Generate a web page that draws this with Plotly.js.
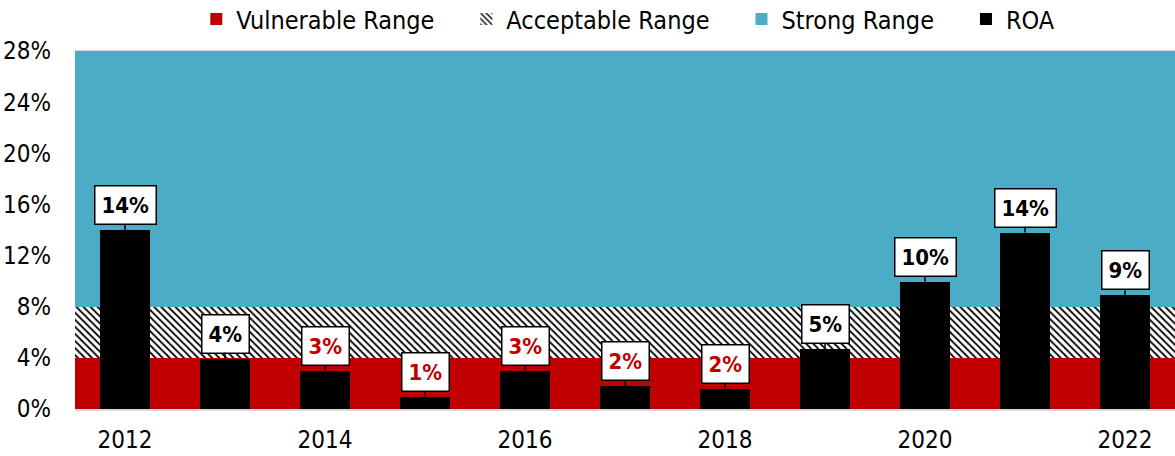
<!DOCTYPE html>
<html><head><meta charset="utf-8">
<script src="https://cdn.plot.ly/plotly-3.0.1.min.js"></script>
<style>html,body{margin:0;padding:0;background:#fff;}#chart{width:1175px;height:456px;}</style>
</head><body><div id="chart"></div>
<script>
const years = [2012, 2013, 2014, 2015, 2016, 2017, 2018, 2019, 2020, 2021, 2022];
const roa = [14.0, 3.95, 3.0, 0.9, 3.0, 1.8, 1.6, 4.7, 9.95, 13.8, 8.9];
const vulnerableTop = 4;
const acceptableTop = 8;
const strongTop = 28;
const yTicks = [0, 4, 8, 12, 16, 20, 24, 28];
const xTicks = [2012, 2014, 2016, 2018, 2020, 2022];
const seriesNames = ['Vulnerable Range', 'Acceptable Range', 'Strong Range', 'ROA'];

const RED = '#C00000', TEAL = '#4BACC6';
const FONT = 'DejaVu Sans Condensed, DejaVu Sans';
const PAD = '\u2003\u2009';

const fill = v => years.map(() => v);

const traces = [
  {type: 'bar', name: seriesNames[0] + PAD, x: years, y: fill(vulnerableTop), base: fill(0), width: 1,
   marker: {color: RED, line: {width: 0}}, hoverinfo: 'skip'},
  {type: 'bar', name: seriesNames[1] + PAD, x: years, y: fill(acceptableTop - vulnerableTop), base: fill(vulnerableTop), width: 1,
   marker: {color: 'white', line: {width: 0}, pattern: {shape: '\\', fgcolor: 'black', bgcolor: 'white', size: 5, solidity: 0.35}}, hoverinfo: 'skip'},
  {type: 'bar', name: seriesNames[2] + PAD, x: years, y: fill(strongTop - acceptableTop), base: fill(acceptableTop), width: 1,
   marker: {color: TEAL, line: {width: 0}}, hoverinfo: 'skip'},
  {type: 'bar', name: seriesNames[3], x: years, y: roa, base: fill(0), width: 0.5,
   marker: {color: 'black', line: {width: 0}}, hoverinfo: 'skip'}
];

const annotations = years.map((yr, i) => {
  const r = Math.round(roa[i]);
  return {
    x: yr, y: roa[i], xref: 'x', yref: 'y',
    text: '<b>' + r + '%</b>',
    showarrow: true, arrowhead: 0, arrowwidth: 1.5, arrowcolor: 'black',
    ax: 0, ay: -25,
    bgcolor: 'white', bordercolor: 'black', borderwidth: 1.5, borderpad: 6,
    font: {family: FONT, size: 22, color: r < vulnerableTop ? RED : 'black'}
  };
});

const layout = {
  width: 1175, height: 456,
  margin: {l: 75, r: 0, t: 51, b: 47, autoexpand: false},
  paper_bgcolor: 'white', plot_bgcolor: 'white',
  barmode: 'overlay', bargap: 0,
  font: {family: FONT, size: 24, color: 'black'},
  showlegend: true,
  legend: {orientation: 'h', x: 0.503, xanchor: 'center', y: 1.089, yanchor: 'middle',
           font: {family: FONT, size: 25, color: 'black'}, traceorder: 'normal', itemwidth: 30},
  xaxis: {range: [years[0] - 0.5, years[years.length - 1] + 0.5], tickvals: xTicks, ticktext: xTicks.map(String),
          showgrid: false, zeroline: false, showline: true, mirror: true, linecolor: '#d9d9d9', linewidth: 1.5,
          ticks: '', ticklabelstandoff: 9, tickfont: {family: FONT, size: 24}},
  yaxis: {range: [0, strongTop], tickvals: yTicks, ticktext: yTicks.map(v => v + '%'),
          showgrid: false, zeroline: false, showline: false, ticks: '', ticklabelstandoff: 23,
          tickfont: {family: FONT, size: 24}},
  annotations: annotations
};

Plotly.newPlot('chart', traces, layout, {displayModeBar: false, staticPlot: true});
</script></body></html>
